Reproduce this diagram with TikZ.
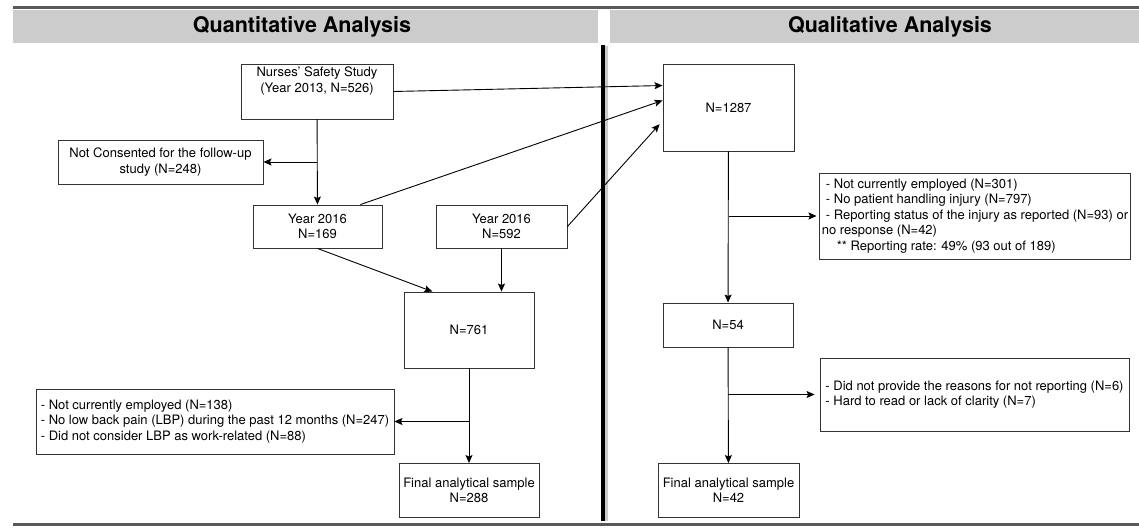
\documentclass[tikz,border=0pt]{standalone}
\usepackage{fontspec}
\setmainfont{TeX Gyre Heros}
\usetikzlibrary{calc,arrows.meta}
\tikzset{
	box/.style={draw=black!80, line width=0.9pt, align=center, inner sep=2pt, font=\fontsize{13}{15.4}\selectfont},
	listbox/.style={box, align=left},
	link/.style={line width=0.9pt, -{Stealth[length=8pt,width=7pt,inset=1.5pt]}},
	header/.style={fill=black!20, inner sep=0pt},
	headtext/.style={font=\bfseries\fontsize{21.5}{25}\selectfont},
}

\begin{document}
\begin{tikzpicture}[x=1pt, y=-1pt]
		%%%%% START %%%%%
		\useasboundingbox (0, 0) rectangle (1139, 527);
		
		% banners
		\draw[line width=2.5pt, color=black!65] (13, 7.5) -- (1139, 7.5);
		\node[header, minimum width=585, minimum height=33] (quanthead) at (305.5, 27) {};
		\node[headtext] (quanttitle) at (302, 27) {Quantitative Analysis};
		\node[header, minimum width=530, minimum height=33] (qualhead) at (875, 27) {};
		\node[headtext] (qualtitle) at (890, 27) {Qualitative Analysis};
		\draw[line width=3pt, color=black!65] (13, 524) -- (1139, 524);
		
		% divider
		\draw[line width=4pt, color=black!20] (606, 46) -- (606, 521);
		\draw[line width=4pt] (603, 45) -- (603, 521);
		
		% quantitative side
		\node[box, minimum width=152, minimum height=55] (nurses) at (317, 91.5) {};
		\node[box, draw=none, anchor=north, inner sep=3pt] (nursestext) at (nurses.north) {Nurses' Safety Study\\(Year 2013, N=526)};
		\node[box, minimum width=205, minimum height=44] (notcons) at (160.5, 162) {Not Consented for the follow-up\\study (N=248)};
		\node[box, minimum width=129, minimum height=43] (yearA) at (317.5, 226.5) {Year 2016\\N=169};
		\node[box, minimum width=131, minimum height=43] (yearB) at (501.5, 226.5) {Year 2016\\N=592};
		\node[box, minimum width=130, minimum height=76] (total) at (469, 330) {N=761};
		\node[listbox, minimum width=358, minimum height=65] (lbpout) at (215, 421.5) {- Not currently employed (N=138)\\- No low back pain (LBP) during the past 12 months (N=247)\\- Did not consider LBP as work-related (N=88)};
		\node[box, minimum width=140, minimum height=54] (finalquant) at (469, 490.5) {Final analytical sample\\N=288};
		
		\coordinate (splitA) at (nurses.south |- notcons.east);
		\coordinate (splitB) at (total.south |- lbpout.east);
		\draw[link] (nurses) -- (yearA);
		\draw[link] (splitA) -- (notcons.east);
		\draw[link] (yearA.south) -- ($(total.north west)!0.22!(total.north east)$);
		\draw[link] (yearB.south) -- (yearB.south |- total.north);
		\draw[link] (total) -- (finalquant);
		\draw[link] (splitB) -- (lbpout.east);
		
		% qualitative side
		\node[box, minimum width=131, minimum height=87] (pool) at (728.5, 107.5) {N=1287};
		\node[listbox, minimum width=308, minimum height=86] (poolout) at (975, 216) {\hspace{4pt}- Not currently employed (N=301)\\\hspace{4pt}- No patient handling injury (N=797)\\\hspace{4pt}- Reporting status of the injury as reported (N=93) or\\no response (N=42)\\\hspace{15pt}** Reporting rate: 49\% (93 out of 189)};
		\node[box, minimum width=130, minimum height=44] (nonrep) at (728, 325) {N=54};
		\node[listbox, minimum width=309, minimum height=73] (reasons) at (974.5, 394.5) {- Did not provide the reasons for not reporting (N=6)\\- Hard to read or lack of clarity (N=7)};
		\node[box, minimum width=141, minimum height=54] (finalqual) at (728.5, 490.5) {Final analytical sample\\N=42};
		
		\coordinate (splitC) at (pool.south |- poolout.west);
		\coordinate (splitD) at (nonrep.south |- reasons.west);
		\draw[link] (nurses.east) -- ($(pool.north west)!0.25!(pool.south west)$);
		\draw[link] ($(yearA.north west)!0.83!(yearA.north east)$) -- ($(pool.north west)!0.42!(pool.south west)$);
		\draw[link] (yearB.east) -- ($(pool.north west)!0.69!(pool.south west)+(-3, 0)$);
		\draw[link] (pool) -- (nonrep);
		\draw[link] (splitC) -- ([xshift=-3pt]poolout.west);
		\draw[link] (nonrep) -- (finalqual);
		\draw[link] (splitD) -- ([xshift=-5pt]reasons.west);
		
		%%%%% END %%%%%
	\end{tikzpicture}
\end{document}
